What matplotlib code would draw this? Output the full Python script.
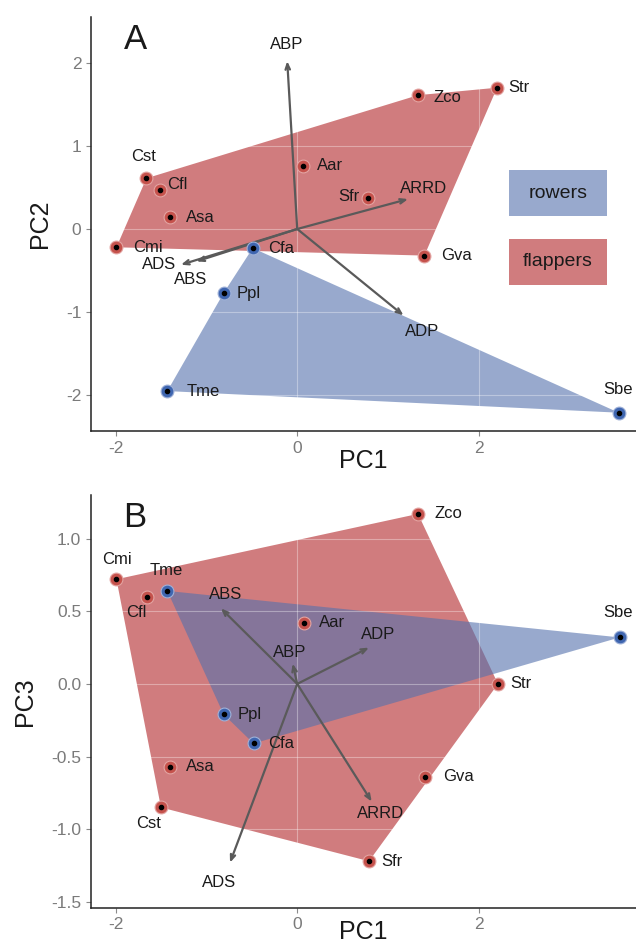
import numpy as np
import matplotlib
matplotlib.use("Agg")
import matplotlib.pyplot as plt
from matplotlib.patches import Polygon, Rectangle

plt.rcParams['font.family'] = ['Liberation Sans', 'DejaVu Sans']
plt.rcParams['axes.unicode_minus'] = False

# ---- data ----
species = ['Cst', 'Cfl', 'Asa', 'Cmi', 'Cfa', 'Ppl', 'Tme',
           'Aar', 'Zco', 'Str', 'Sfr', 'Gva', 'Sbe']
group = ['flappers', 'flappers', 'flappers', 'flappers', 'rowers', 'rowers', 'rowers',
         'flappers', 'flappers', 'flappers', 'flappers', 'flappers', 'rowers']

pc1_a = [-1.66, -1.51, -1.40, -1.99, -0.49, -0.81, -1.43, 0.06, 1.33, 2.20, 0.78, 1.40, 3.54]
pc2_a = [0.61, 0.47, 0.14, -0.22, -0.23, -0.77, -1.95, 0.76, 1.61, 1.70, 0.37, -0.32, -2.21]

pc1_b = [-1.50, -1.65, -1.40, -1.99, -0.48, -0.81, -1.43, 0.07, 1.33, 2.21, 0.79, 1.41, 3.55]
pc3_b = [-0.85, 0.60, -0.57, 0.72, -0.41, -0.21, 0.64, 0.42, 1.17, 0.00, -1.22, -0.64, 0.32]

variables = ['ABP', 'ADS', 'ABS', 'ARRD', 'ADP']
load1_a = [-0.11, -1.28, -1.11, 1.22, 1.17]
load2_a = [2.02, -0.43, -0.39, 0.36, -1.04]
load1_b = [-0.05, -0.74, -0.84, 0.82, 0.79]
load3_b = [0.14, -1.23, 0.52, -0.81, 0.25]

# ---- label placement (pixel offsets from the point / arrow tip) ----
lab_off_a = {'Cst': (-3, 22), 'Cfl': (17, 5), 'Asa': (30, 0), 'Cmi': (31, 0), 'Cfa': (28, 0),
             'Ppl': (25, 0), 'Tme': (36, 0), 'Aar': (27, 0), 'Zco': (29, -2), 'Str': (22, 0),
             'Sfr': (-19, 2), 'Gva': (32, 0), 'Sbe': (-1, 23)}
lab_off_b = {'Cst': (-12, -16), 'Cfl': (-11, -16), 'Asa': (30, 0), 'Cmi': (0, 20), 'Cfa': (28, 0),
             'Ppl': (26, 0), 'Tme': (-1, 20), 'Aar': (28, 0), 'Zco': (30, 0), 'Str': (23, 0),
             'Sfr': (23, 0), 'Gva': (33, 0), 'Sbe': (-2, 25)}
var_off_a = {'ABP': (-1, 17), 'ADS': (-22, 0), 'ABS': (-6, -18), 'ARRD': (15, 11), 'ADP': (19, -16)}
var_off_b = {'ABP': (-3, 11), 'ADS': (-11, -20), 'ABS': (5, 14), 'ARRD': (9, -12), 'ADP': (9, 13)}

fill = {'rowers': '#5371ad', 'flappers': '#b12528'}
dot = {'rowers': '#3f66b0', 'flappers': '#c5524c'}
ring = {'rowers': '#9fb1d8', 'flappers': '#e3a4a2'}


def hull(pts):
    pts = sorted(set(pts))
    def cross(o, a, b):
        return (a[0] - o[0]) * (b[1] - o[1]) - (a[1] - o[1]) * (b[0] - o[0])
    lower, upper = [], []
    for p in pts:
        while len(lower) >= 2 and cross(lower[-2], lower[-1], p) <= 0:
            lower.pop()
        lower.append(p)
    for p in reversed(pts):
        while len(upper) >= 2 and cross(upper[-2], upper[-1], p) <= 0:
            upper.pop()
        upper.append(p)
    return lower[:-1] + upper[:-1]


def panel(ax, xs, ys, lx, ly, lab_off, var_off, letter, ylabel, ylim, yticks, fmt, xpad):
    ax.set_xlim(-2.27, 3.73)
    ax.set_ylim(*ylim)
    for g in ['flappers', 'rowers']:
        pts = [(x, y) for x, y, gg in zip(xs, ys, group) if gg == g]
        ax.add_patch(Polygon(hull(pts), closed=True, facecolor=fill[g], alpha=0.6,
                             edgecolor='none', zorder=1))
    for t in [-2, 0, 2]:
        ax.axvline(t, color='white', alpha=0.35, lw=0.8, zorder=2)
    for t in yticks:
        ax.axhline(t, color='white', alpha=0.35, lw=0.8, zorder=2)

    for x, y, name in zip(lx, ly, variables):
        ax.annotate('', xy=(x, y), xytext=(0, 0),
                    arrowprops=dict(arrowstyle='->,head_length=0.4,head_width=0.16',
                                    color='#5a5a5a', lw=1.6, shrinkA=0, shrinkB=0),
                    zorder=3)
        ax.annotate(name, (x, y), xytext=var_off[name], textcoords='offset pixels',
                    ha='center', va='center', fontsize=12, color='#1a1a1a', zorder=5)

    for x, y, name, g in zip(xs, ys, species, group):
        ax.scatter(x, y, s=85, color=dot[g], edgecolor=ring[g], linewidth=0.8, zorder=4)
        ax.scatter(x, y, s=9, color='black', zorder=4.5)
        ax.annotate(name, (x, y), xytext=lab_off[name], textcoords='offset pixels',
                    ha='center', va='center', fontsize=12, color='#1a1a1a', zorder=5)

    ax.set_xticks([-2, 0, 2])
    ax.set_yticks(yticks)
    ax.set_yticklabels([fmt.format(t) for t in yticks])
    ax.tick_params(colors='#8a8a8a', labelsize=12.5, length=3.5, width=0.8, labelcolor='#7a7a7a')
    for s in ['top', 'right']:
        ax.spines[s].set_visible(False)
    for s in ['left', 'bottom']:
        ax.spines[s].set_color('#222222')
        ax.spines[s].set_linewidth(1.1)
    ax.set_xlabel('PC1', fontsize=18, color='#1a1a1a', labelpad=xpad)
    ax.set_ylabel(ylabel, fontsize=18, color='#1a1a1a', labelpad=10)
    ax.text(0.081, 0.985, letter, transform=ax.transAxes, fontsize=25, ha='center', va='top',
            color='#1a1a1a')


fig = plt.figure(figsize=(6.36, 9.47), dpi=100)
ax1 = fig.add_axes([0.1431, 0.5449, 0.857, 0.4371])
ax2 = fig.add_axes([0.1431, 0.0415, 0.857, 0.4358])

panel(ax1, pc1_a, pc2_a, load1_a, load2_a, lab_off_a, var_off_a, 'A', 'PC2',
      (-2.43, 2.55), [-2, -1, 0, 1, 2], '{:g}', -5)
panel(ax2, pc1_b, pc3_b, load1_b, load3_b, lab_off_b, var_off_b, 'B', 'PC3',
      (-1.54, 1.30), [-1.5, -1.0, -0.5, 0.0, 0.5, 1.0], '{:.1f}', -9)

# legend boxes in panel A
for g, y0 in [('rowers', 0.519), ('flappers', 0.353)]:
    ax1.add_patch(Rectangle((0.767, y0), 0.18, 0.111, transform=ax1.transAxes,
                            facecolor=fill[g], alpha=0.6, edgecolor='none', zorder=6))
    ax1.text(0.857, y0 + 0.0555, g, transform=ax1.transAxes, ha='center', va='center',
             fontsize=14, color='#1a1a1a', zorder=7)

fig.savefig('out.png', dpi=100)
